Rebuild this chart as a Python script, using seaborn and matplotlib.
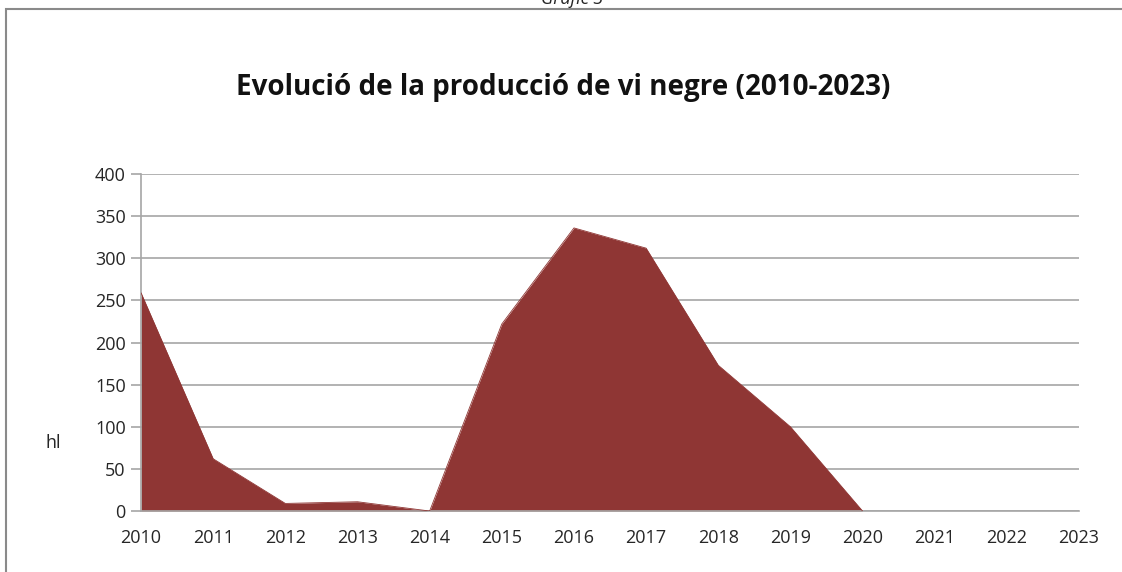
import pandas as pd
import seaborn as sns
import matplotlib.pyplot as plt
from matplotlib.patches import Rectangle

years = [2010, 2011, 2012, 2013, 2014, 2015, 2016, 2017, 2018, 2019, 2020, 2021, 2022, 2023]
hl = [259, 62, 9, 11, 0, 222, 336, 312, 173, 100, 0, 0, 0, 0]
y_ticks = [0, 50, 100, 150, 200, 250, 300, 350, 400]

df = pd.DataFrame({'year': years, 'hl': hl})

sns.set_theme(style="white")
plt.rcParams['font.family'] = ['Open Sans', 'DejaVu Sans']

FILL = '#8f3634'
GRID = '#a6a6a6'
TXT = '#262626'

fig = plt.figure(figsize=(11.22, 5.72), dpi=100)
ax = fig.add_axes([0.1257, 0.1066, 0.836, 0.5892])

ax.fill_between(df['year'], df['hl'], 0, color=FILL, linewidth=0, zorder=2)
# edge of the area, only up to the last year with production
sns.lineplot(data=df[df['year'] <= 2020], x='year', y='hl', color=FILL,
             linewidth=0.6, ax=ax, zorder=3)

ax.set_xlim(2010, 2023)
ax.set_ylim(0, 400)
ax.set_xticks(years)
ax.set_xticklabels([str(y) for y in years], fontsize=13, color=TXT)
ax.set_yticks(y_ticks)
ax.set_yticklabels([str(v) for v in y_ticks], fontsize=13, color=TXT)

ax.yaxis.grid(True, color=GRID, linewidth=1.2, zorder=1)
ax.set_axisbelow(True)
for s in ['top', 'right']:
    ax.spines[s].set_visible(False)
for s in ['left', 'bottom']:
    ax.spines[s].set_color(GRID)
    ax.spines[s].set_linewidth(1.2)

ax.tick_params(axis='y', which='both', left=True, length=7, width=1.2, color=GRID, pad=4)
ax.tick_params(axis='x', which='both', bottom=False, pad=7)
ax.set_xlabel('')
ax.set_ylabel('hl', rotation=0, fontsize=13, color=TXT)
ax.yaxis.set_label_coords(-0.094, 0.175)

fig.suptitle('Evolució de la producció de vi negre (2010-2023)', x=0.502, y=1 - 88 / 572,
             va='center', fontsize=20, fontweight='bold', color='#111111')

# outer frame of the chart
fig.add_artist(Rectangle((6 / 1122, -0.02), 1.1, 1 - 9 / 572 + 0.02,
                         transform=fig.transFigure, fill=False,
                         edgecolor='#8a8a8a', linewidth=1.5, zorder=0))
fig.text(0.51, 1 - 4 / 572, 'Gràfic 3', ha='center', va='baseline', fontsize=13,
         fontstyle='italic', color=TXT)

plt.savefig('out.png', dpi=100)
